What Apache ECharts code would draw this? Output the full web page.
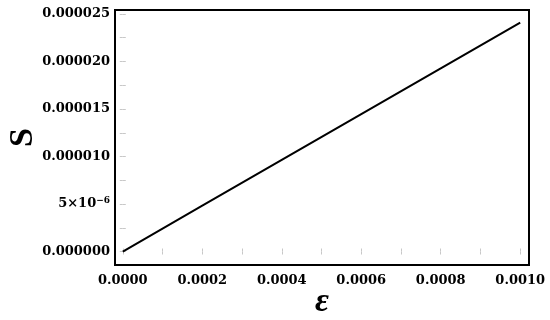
<!DOCTYPE html>
<html>
<head>
<meta charset="utf-8">
<script src="https://cdn.jsdelivr.net/npm/echarts@6/dist/echarts.min.js"></script>
<style>html,body{margin:0;padding:0;background:#fff}#c{width:550px;height:320px}</style>
</head>
<body>
<div id="c"></div>
<script>
// Data
var epsilon = [0, 0.0002, 0.0004, 0.0006, 0.0008, 0.001];
var S = [0, 4.82e-6, 9.64e-6, 1.446e-5, 1.928e-5, 2.41e-5];
// Ticks and labels
var xTicks = [0, 0.0002, 0.0004, 0.0006, 0.0008, 0.001];
var xTickLabels = ['0.0000', '0.0002', '0.0004', '0.0006', '0.0008', '0.0010'];
var xMinorTicks = [0.0001, 0.0003, 0.0005, 0.0007, 0.0009];
var yTicks = [0, 5e-6, 1e-5, 1.5e-5, 2e-5, 2.5e-5];
var yTickLabels = ['0.000000', '{b|5×10}{s|−6}', '0.000010', '0.000015', '0.000020', '0.000025'];
var yMinorTicks = [2.5e-6, 7.5e-6, 1.25e-5, 1.75e-5, 2.25e-5];
var xName = 'ε';
var yName = 'S';

function lookup(v, ticks, labels) {
  for (var i = 0; i < ticks.length; i++) {
    if (Math.abs(v - ticks[i]) < 1e-12) return labels[i];
  }
  return '';
}

var font = 'DejaVu Serif';
var tickStyle = { show: true, inside: true, length: 3, lineStyle: { color: '#c8c8c8', width: 1 } };
var data = epsilon.map(function (x, i) { return [x, S[i]]; });

var chart = echarts.init(document.getElementById('c'));
chart.setOption({
  animation: false,
  backgroundColor: '#fff',
  grid: { left: 115, top: 10, width: 414, height: 255, containLabel: false, outerBoundsMode: 'none', show: true, borderColor: '#000', borderWidth: 2, backgroundColor: 'transparent' },
  xAxis: [{
    type: 'value', position: 'bottom', min: -1.96e-5, max: 1.0221e-3,
    axisLine: { show: false },
    axisTick: Object.assign({}, tickStyle, { customValues: xTicks.concat(xMinorTicks) }),
    splitLine: { show: false },
    axisLabel: {
      customValues: xTicks, margin: 9,
      fontFamily: font, fontWeight: 'bold', fontSize: 13, color: '#000',
      formatter: function (v) { return lookup(v, xTicks, xTickLabels); }
    },
    name: xName, nameLocation: 'middle', nameGap: 20, nameMoveOverlap: false,
    nameTextStyle: { fontFamily: 'Liberation Serif', fontStyle: 'italic', fontWeight: 'bold', fontSize: 34, color: '#000' }
  }, {
    type: 'value', position: 'top', min: -1.96e-5, max: 1.0221e-3,
    axisLine: { show: false },
    axisTick: Object.assign({}, tickStyle, { customValues: xTicks.concat(xMinorTicks) }),
    splitLine: { show: false },
    axisLabel: { show: false }
  }],
  yAxis: [{
    type: 'value', position: 'left', min: -1.418e-6, max: 2.542e-5,
    axisLine: { show: false },
    axisTick: Object.assign({}, tickStyle, { customValues: yTicks.concat(yMinorTicks) }),
    splitLine: { show: false },
    axisLabel: {
      customValues: yTicks, margin: 5,
      fontFamily: font, fontWeight: 'bold', fontSize: 13, color: '#000',
      formatter: function (v) { return lookup(v, yTicks, yTickLabels); },
      rich: {
        b: { fontFamily: font, fontWeight: 'bold', fontSize: 13, color: '#000' },
        s: { fontFamily: font, fontWeight: 'bold', fontSize: 9, color: '#000', padding: [0, 0, 7, 0] }
      }
    },
    name: yName, nameLocation: 'middle', nameGap: 75, nameRotate: 90, nameMoveOverlap: false,
    nameTextStyle: { fontFamily: 'Liberation Serif', fontWeight: 'bold', fontSize: 34, color: '#000' }
  }, {
    type: 'value', position: 'right', min: -1.418e-6, max: 2.542e-5,
    axisLine: { show: false },
    axisTick: Object.assign({}, tickStyle, { customValues: yTicks.concat(yMinorTicks) }),
    splitLine: { show: false },
    axisLabel: { show: false }
  }],
  series: [{
    type: 'line', xAxisIndex: 0, yAxisIndex: 0, data: data,
    showSymbol: false, symbol: 'none',
    lineStyle: { color: '#000', width: 2 }
  }]
});
</script>
</body>
</html>
